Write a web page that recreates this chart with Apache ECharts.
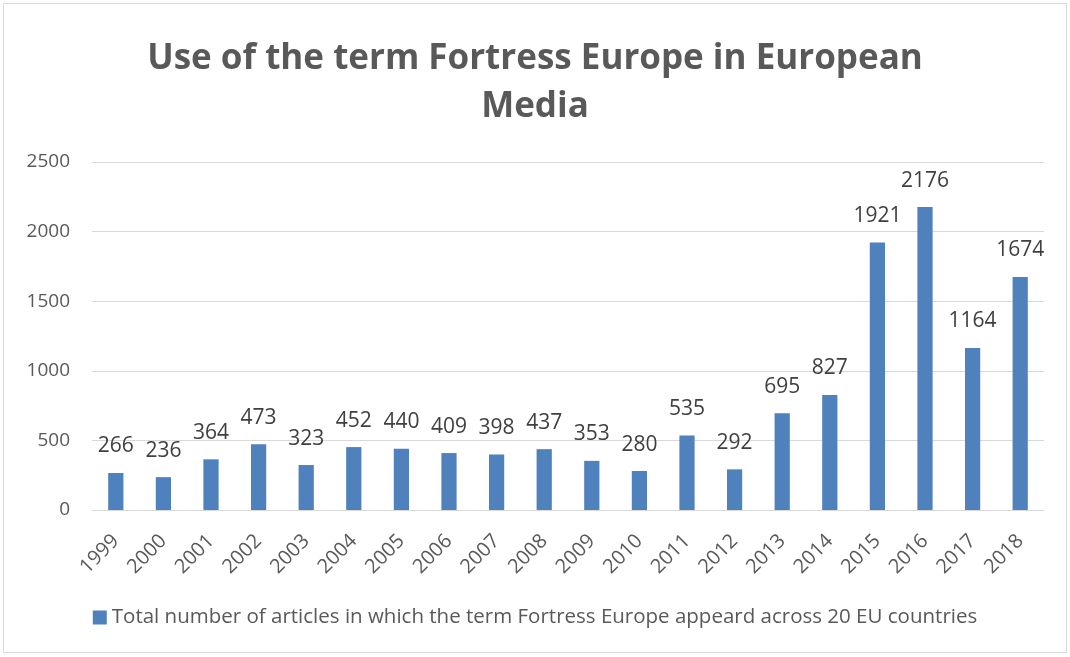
<!DOCTYPE html>
<html>
<head>
<meta charset="utf-8">
<script src="https://cdn.jsdelivr.net/npm/echarts@6/dist/echarts.min.js"></script>
<style>
	html, body { margin: 0; padding: 0; background: #fff; }
	#chart { position: absolute; left: 3px; top: 3px; width: 1062px; height: 648px; border: 1px solid #d9d9d9; }
</style>
</head>
<body>
<div id="chart"></div>
<script>
// chart data
const years = ["1999", "2000", "2001", "2002", "2003", "2004", "2005", "2006", "2007", "2008",
	"2009", "2010", "2011", "2012", "2013", "2014", "2015", "2016", "2017", "2018"];
const articleCounts = [266, 236, 364, 473, 323, 452, 440, 409, 398, 437,
	353, 280, 535, 292, 695, 827, 1921, 2176, 1164, 1674];
const seriesName = "Total number of articles in which the term Fortress Europe appeard across 20 EU countries";

const textColor = "#595959";
const barColor = "#4f81bd";
const fontFamily = "'Open Sans', 'Liberation Sans', sans-serif";

const chart = echarts.init(document.getElementById("chart"));
chart.setOption({
	animation: false,
	textStyle: { fontFamily: fontFamily },
	title: {
		text: "Use of the term Fortress Europe in European\nMedia",
		left: "center",
		top: 26,
		textStyle: {
			color: textColor,
			fontSize: 35,
			fontWeight: "bold",
			lineHeight: 48,
			fontFamily: fontFamily
		}
	},
	legend: {
		bottom: 19,
		left: "center",
		icon: "rect",
		itemWidth: 14,
		itemHeight: 14,
		itemGap: 6,
		textStyle: { color: textColor, fontSize: 20.5 },
		data: [seriesName]
	},
	grid: {
		left: 88,
		right: 22,
		top: 158,
		bottom: 142,
		containLabel: false
	},
	xAxis: {
		type: "category",
		data: years,
		axisTick: { show: false },
		axisLine: { lineStyle: { color: "#d9d9d9" } },
		axisLabel: {
			color: textColor,
			fontSize: 20,
			rotate: 45,
			margin: 28,
			interval: 0
		}
	},
	yAxis: {
		type: "value",
		min: 0,
		max: 2500,
		interval: 500,
		axisLine: { show: false },
		axisTick: { show: false },
		splitLine: { lineStyle: { color: "#d9d9d9" } },
		axisLabel: {
			color: textColor,
			fontSize: 19,
			margin: 22,
			formatter: v => String(v)
		}
	},
	series: [
		{
			name: seriesName,
			type: "bar",
			data: articleCounts,
			barWidth: "32%",
			itemStyle: { color: barColor },
			label: {
				show: true,
				position: "top",
				distance: 16,
				color: "#404040",
				fontSize: 21
			}
		}
	]
});
</script>
</body>
</html>
